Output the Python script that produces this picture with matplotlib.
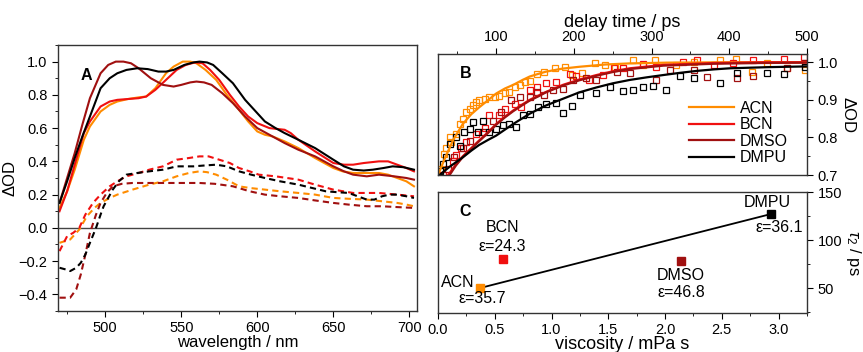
import matplotlib
matplotlib.use("Agg")
import matplotlib.pyplot as plt
from matplotlib.ticker import MultipleLocator

plt.rcParams['font.family'] = ['Liberation Sans', 'DejaVu Sans']
plt.rcParams['mathtext.fontset'] = 'custom'
plt.rcParams['mathtext.rm'] = 'Liberation Sans'
plt.rcParams['mathtext.it'] = 'Liberation Sans:italic'

solvents = ["ACN", "BCN", "DMSO", "DMPU"]
colors = ["#FF8C00", "#F01010", "#A01010", "#000000"]

# ---------- Panel A: spectra (solid) ----------
wl_solid_acn = [470, 475, 480, 486, 490, 497, 503, 508, 515, 522, 527, 533, 540, 545, 551, 556, 560, 566, 573, 580, 588, 594, 600, 605, 610, 618, 627, 638, 650, 656, 663, 672, 680, 686, 692, 698, 703]
od_solid_acn = [0.12, 0.22, 0.35, 0.53, 0.61, 0.70, 0.74, 0.76, 0.775, 0.785, 0.79, 0.84, 0.93, 0.97, 1.00, 1.00, 0.99, 0.95, 0.89, 0.80, 0.71, 0.64, 0.58, 0.56, 0.55, 0.52, 0.48, 0.42, 0.36, 0.34, 0.33, 0.33, 0.33, 0.32, 0.30, 0.28, 0.25]
wl_solid_bcn = [470, 475, 480, 486, 490, 497, 503, 508, 515, 522, 527, 533, 540, 547, 553, 559, 564, 569, 575, 582, 588, 594, 600, 608, 613, 618, 622, 627, 638, 650, 657, 663, 670, 680, 686, 692, 698, 703]
od_solid_bcn = [0.10, 0.22, 0.38, 0.57, 0.64, 0.73, 0.76, 0.77, 0.775, 0.78, 0.79, 0.83, 0.89, 0.95, 0.98, 0.995, 0.99, 0.95, 0.89, 0.80, 0.73, 0.67, 0.63, 0.60, 0.595, 0.59, 0.57, 0.53, 0.46, 0.39, 0.38, 0.38, 0.39, 0.40, 0.40, 0.38, 0.36, 0.34]
wl_solid_dmso = [470, 475, 480, 485, 490, 497, 502, 507, 512, 517, 522, 530, 538, 545, 550, 556, 560, 565, 570, 577, 584, 592, 600, 610, 618, 627, 638, 650, 657, 663, 672, 680, 690, 698, 703]
od_solid_dmso = [0.15, 0.30, 0.45, 0.62, 0.78, 0.93, 0.98, 1.00, 1.00, 0.99, 0.96, 0.90, 0.86, 0.85, 0.86, 0.875, 0.88, 0.875, 0.86, 0.81, 0.75, 0.67, 0.60, 0.55, 0.51, 0.47, 0.43, 0.37, 0.34, 0.32, 0.31, 0.32, 0.31, 0.30, 0.29]
wl_solid_dmpu = [470, 475, 480, 485, 490, 497, 503, 508, 514, 521, 528, 535, 540, 545, 552, 558, 562, 567, 571, 577, 584, 592, 600, 605, 612, 618, 627, 638, 650, 657, 663, 670, 676, 683, 689, 696, 703]
od_solid_dmpu = [0.15, 0.28, 0.42, 0.55, 0.67, 0.84, 0.90, 0.93, 0.95, 0.96, 0.955, 0.94, 0.94, 0.95, 0.98, 0.995, 1.00, 0.995, 0.98, 0.93, 0.87, 0.77, 0.69, 0.64, 0.60, 0.57, 0.53, 0.48, 0.41, 0.37, 0.35, 0.345, 0.35, 0.36, 0.37, 0.365, 0.35]

# ---------- Panel A: spectra (dashed) ----------
wl_dash_acn = [470, 477, 483, 488, 493, 497, 503, 508, 518, 529, 538, 547, 555, 562, 567, 573, 580, 588, 595, 605, 615, 627, 638, 650, 660, 672, 682, 692, 698, 703]
od_dash_acn = [-0.09, -0.07, -0.01, 0.07, 0.12, 0.15, 0.18, 0.20, 0.23, 0.26, 0.28, 0.31, 0.33, 0.34, 0.335, 0.32, 0.29, 0.25, 0.24, 0.23, 0.22, 0.21, 0.20, 0.18, 0.175, 0.17, 0.16, 0.15, 0.14, 0.13]
wl_dash_bcn = [470, 475, 479, 483, 487, 492, 497, 503, 508, 514, 522, 529, 538, 547, 555, 562, 568, 575, 582, 588, 595, 601, 612, 627, 638, 650, 663, 672, 680, 692, 703]
od_dash_bcn = [-0.14, -0.05, -0.03, 0.00, 0.08, 0.15, 0.20, 0.25, 0.28, 0.31, 0.33, 0.35, 0.37, 0.41, 0.42, 0.43, 0.43, 0.41, 0.39, 0.36, 0.34, 0.32, 0.31, 0.29, 0.26, 0.23, 0.21, 0.21, 0.21, 0.20, 0.19]
wl_dash_dmso = [470, 477, 481, 484, 487, 490, 494, 497, 501, 505, 511, 518, 530, 540, 552, 562, 572, 584, 595, 605, 615, 627, 638, 650, 660, 672, 682, 692, 703]
od_dash_dmso = [-0.42, -0.42, -0.37, -0.28, -0.16, -0.03, 0.08, 0.15, 0.21, 0.25, 0.265, 0.27, 0.27, 0.27, 0.27, 0.27, 0.265, 0.25, 0.22, 0.20, 0.19, 0.18, 0.165, 0.15, 0.14, 0.13, 0.13, 0.125, 0.12]
wl_dash_dmpu = [470, 474, 477, 481, 484, 487, 490, 494, 497, 499, 502, 505, 509, 514, 521, 529, 538, 547, 558, 565, 573, 580, 588, 596, 605, 615, 627, 636, 645, 652, 660, 666, 672, 677, 682, 687, 692, 698, 703]
od_dash_dmpu = [-0.24, -0.25, -0.26, -0.24, -0.21, -0.16, -0.09, 0.00, 0.08, 0.13, 0.18, 0.23, 0.28, 0.32, 0.33, 0.34, 0.35, 0.37, 0.37, 0.375, 0.38, 0.37, 0.34, 0.32, 0.30, 0.28, 0.26, 0.24, 0.22, 0.215, 0.21, 0.19, 0.17, 0.17, 0.19, 0.20, 0.20, 0.19, 0.18]

# ---------- Panel B: kinetics (points) ----------
t_acn = [29, 33, 35, 40, 42, 48, 53, 57, 61, 66, 70, 74, 78, 85, 91, 98, 104, 111, 117, 124, 130, 137, 143, 152, 162, 175, 188, 197, 210, 227, 240, 253, 276, 289, 304, 332, 354, 388, 408, 429, 448, 474, 498]
k_acn = [0.715, 0.757, 0.773, 0.80, 0.787, 0.81, 0.836, 0.85, 0.867, 0.876, 0.885, 0.894, 0.90, 0.903, 0.908, 0.908, 0.91, 0.917, 0.92, 0.933, 0.94, 0.948, 0.95, 0.969, 0.975, 0.984, 0.987, 0.966, 0.972, 0.997, 0.993, 0.988, 1.006, 0.993, 1.006, 0.993, 1.002, 1.006, 1.01, 0.975, 0.997, 0.984, 0.979]
t_bcn = [31, 44, 48, 55, 61, 74, 85, 91, 104, 111, 124, 132, 143, 152, 164, 177, 195, 203, 220, 238, 251, 263, 289, 306, 341, 358, 380, 405, 431, 470, 496]
k_bcn = [0.70, 0.738, 0.754, 0.773, 0.787, 0.81, 0.825, 0.859, 0.859, 0.876, 0.89, 0.88, 0.926, 0.935, 0.944, 0.948, 0.969, 0.963, 0.953, 0.966, 0.984, 0.984, 0.996, 0.988, 1.002, 1.006, 0.993, 0.997, 1.006, 1.008, 1.013]
t_dmso = [38, 46, 57, 66, 83, 96, 106, 119, 130, 143, 152, 162, 173, 186, 199, 216, 229, 255, 272, 306, 324, 354, 371, 410, 431, 474, 498]
k_dmso = [0.715, 0.747, 0.773, 0.79, 0.814, 0.845, 0.867, 0.90, 0.908, 0.908, 0.92, 0.912, 0.926, 0.93, 0.953, 0.957, 0.953, 0.975, 0.972, 0.953, 0.979, 0.979, 0.962, 0.957, 0.963, 0.984, 0.999]
t_dmpu = [27, 31, 35, 40, 48, 53, 59, 66, 70, 76, 83, 91, 100, 109, 117, 126, 134, 143, 154, 164, 177, 186, 197, 208, 229, 246, 263, 276, 289, 302, 319, 337, 354, 388, 410, 448, 470, 498]
k_dmpu = [0.71, 0.73, 0.747, 0.782, 0.80, 0.778, 0.814, 0.823, 0.84, 0.814, 0.845, 0.814, 0.823, 0.832, 0.836, 0.827, 0.859, 0.863, 0.88, 0.89, 0.892, 0.865, 0.883, 0.912, 0.917, 0.935, 0.924, 0.926, 0.933, 0.936, 0.926, 0.963, 0.957, 0.945, 0.972, 0.972, 0.969, 0.988]

# ---------- Panel B: fit curves ----------
tf_acn = [25, 35, 45, 57, 68, 78, 90, 100, 111, 122, 133, 143, 154, 164, 185, 207, 240, 272, 320, 400, 500]
kf_acn = [0.70, 0.75, 0.795, 0.836, 0.862, 0.88, 0.90, 0.917, 0.93, 0.94, 0.952, 0.962, 0.969, 0.975, 0.983, 0.988, 0.994, 0.997, 0.999, 1.0, 1.0]
tf_bcn = [38, 47, 57, 68, 78, 90, 100, 111, 122, 133, 143, 154, 164, 186, 207, 229, 250, 272, 315, 380, 440, 500]
kf_bcn = [0.70, 0.725, 0.75, 0.772, 0.792, 0.815, 0.836, 0.855, 0.872, 0.887, 0.90, 0.911, 0.921, 0.94, 0.954, 0.966, 0.976, 0.984, 0.993, 0.998, 1.0, 1.0]
tf_dmso = [40, 48, 57, 68, 78, 90, 100, 111, 122, 133, 143, 154, 164, 186, 207, 229, 250, 272, 315, 380, 440, 500]
kf_dmso = [0.70, 0.725, 0.748, 0.770, 0.79, 0.813, 0.834, 0.853, 0.870, 0.885, 0.898, 0.909, 0.92, 0.938, 0.952, 0.964, 0.974, 0.982, 0.991, 0.996, 0.998, 0.999]
tf_dmpu = [27, 40, 57, 68, 78, 90, 100, 122, 143, 164, 186, 207, 229, 250, 272, 294, 315, 337, 358, 380, 401, 450, 500]
kf_dmpu = [0.70, 0.722, 0.747, 0.765, 0.78, 0.794, 0.805, 0.836, 0.863, 0.885, 0.903, 0.92, 0.933, 0.944, 0.953, 0.96, 0.966, 0.972, 0.977, 0.981, 0.984, 0.987, 0.989]

# ---------- Panel C ----------
viscosity = [0.37, 0.57, 2.14, 2.93]
tau2 = [50, 80, 78, 127]
epsilon = ["ε=35.7", "ε=24.3", "ε=46.8", "ε=36.1"]

# ================= figure =================
fig = plt.figure(figsize=(8.63, 3.52), dpi=100)
TICK = 10.5
LAB = 12
ANN = 11.5

axA = fig.add_axes([0.0672, 0.1165, 0.4160, 0.7557])
solid = [(wl_solid_acn, od_solid_acn), (wl_solid_bcn, od_solid_bcn),
         (wl_solid_dmso, od_solid_dmso), (wl_solid_dmpu, od_solid_dmpu)]
dashed = [(wl_dash_acn, od_dash_acn), (wl_dash_bcn, od_dash_bcn),
          (wl_dash_dmso, od_dash_dmso), (wl_dash_dmpu, od_dash_dmpu)]
axA.axhline(0, color="#444444", lw=1.0, zorder=1)
for (x, y), c in zip(dashed, colors):
    axA.plot(x, y, color=c, lw=1.5, ls=(0, (3, 2)), solid_joinstyle="round")
for (x, y), c in zip(solid, colors):
    axA.plot(x, y, color=c, lw=1.5, solid_joinstyle="round")
axA.set_xlim(469, 705)
axA.set_ylim(-0.5, 1.1)
axA.xaxis.set_major_locator(MultipleLocator(50))
axA.xaxis.set_minor_locator(MultipleLocator(25))
axA.yaxis.set_minor_locator(MultipleLocator(0.1))
axA.set_yticks([-0.4, -0.2, 0.0, 0.2, 0.4, 0.6, 0.8, 1.0])
axA.tick_params(which="both", direction="out", labelsize=TICK)
axA.tick_params(which="major", length=4)
axA.tick_params(which="minor", length=2.5)
axA.set_xlabel("wavelength / nm", fontsize=LAB, labelpad=0)
axA.set_ylabel("ΔOD", fontsize=LAB, labelpad=1)
axA.text(0.062, 0.87, "A", transform=axA.transAxes, fontsize=11.5, fontweight="bold")

# Panel B
axB = fig.add_axes([0.5075, 0.5028, 0.4276, 0.3438])
pts = [(t_acn, k_acn), (t_bcn, k_bcn), (t_dmso, k_dmso), (t_dmpu, k_dmpu)]
fits = [(tf_acn, kf_acn), (tf_bcn, kf_bcn), (tf_dmso, kf_dmso), (tf_dmpu, kf_dmpu)]
for (x, y), c in zip(pts, colors):
    axB.plot(x, y, ls="none", marker="s", ms=4, mfc="none", mec=c, mew=0.9, clip_on=True)
for (x, y), c, s in zip(fits, colors, solvents):
    axB.plot(x, y, color=c, lw=1.6, label=s)
axB.set_xlim(25, 500)
axB.set_ylim(0.7, 1.022)
axB.xaxis.tick_top()
axB.xaxis.set_label_position("top")
axB.yaxis.tick_right()
axB.yaxis.set_label_position("right")
axB.xaxis.set_major_locator(MultipleLocator(100))
axB.xaxis.set_minor_locator(MultipleLocator(50))
axB.yaxis.set_major_locator(MultipleLocator(0.1))
axB.yaxis.set_minor_locator(MultipleLocator(0.05))
axB.tick_params(which="both", direction="out", labelsize=TICK)
axB.tick_params(which="major", length=4)
axB.tick_params(which="minor", length=2.5)
axB.set_xlabel("delay time / ps", fontsize=LAB + 1, labelpad=2)
axB.set_ylabel("ΔOD", fontsize=LAB, rotation=270, labelpad=13)
axB.text(0.058, 0.80, "B", transform=axB.transAxes, fontsize=11.5, fontweight="bold")
leg = axB.legend(loc="lower right", bbox_to_anchor=(0.975, 0.0), frameon=False,
                 fontsize=ANN, handlelength=2.8, handletextpad=0.4, labelspacing=0.1,
                 borderaxespad=0.2)

# Panel C
axC = fig.add_axes([0.5075, 0.1108, 0.4276, 0.3437])
axC.plot([viscosity[0], viscosity[3]], [tau2[0], tau2[3]], color="black", lw=1.3, zorder=2)
for v, t, c in zip(viscosity, tau2, colors):
    axC.plot(v, t, ls="none", marker="s", ms=5.5, color=c, zorder=3)
axC.set_xlim(0, 3.25)
axC.set_ylim(24, 150)
axC.yaxis.tick_right()
axC.yaxis.set_label_position("right")
axC.xaxis.set_major_locator(MultipleLocator(0.5))
axC.xaxis.set_minor_locator(MultipleLocator(0.25))
axC.yaxis.set_major_locator(MultipleLocator(50))
axC.yaxis.set_minor_locator(MultipleLocator(25))
axC.tick_params(which="both", direction="out", labelsize=TICK)
axC.tick_params(which="major", length=4)
axC.tick_params(which="minor", length=2.5)
axC.set_xlabel("viscosity / mPa s", fontsize=LAB + 1, labelpad=-1)
axC.set_ylabel(r"$\tau_2$ / ps", fontsize=LAB, rotation=270, labelpad=15)
axC.text(0.058, 0.80, "C", transform=axC.transAxes, fontsize=11.5, fontweight="bold")

# ACN
axC.text(viscosity[0] - 0.05, tau2[0] + 6, solvents[0], ha="right", va="center", fontsize=ANN)
axC.text(viscosity[0] + 0.02, tau2[0] - 11, epsilon[0], ha="center", va="center", fontsize=ANN)
# BCN
axC.text(viscosity[1], tau2[1] + 33, solvents[1], ha="center", va="center", fontsize=ANN)
axC.text(viscosity[1], tau2[1] + 13, epsilon[1], ha="center", va="center", fontsize=ANN)
# DMSO
axC.text(viscosity[2], tau2[2] - 15, solvents[2], ha="center", va="center", fontsize=ANN)
axC.text(viscosity[2], tau2[2] - 33, epsilon[2], ha="center", va="center", fontsize=ANN)
# DMPU
axC.text(viscosity[3] - 0.03, tau2[3] + 12, solvents[3], ha="center", va="center", fontsize=ANN)
axC.text(viscosity[3] + 0.08, tau2[3] - 14, epsilon[3], ha="center", va="center", fontsize=ANN)

for ax in (axA, axB, axC):
    for sp in ax.spines.values():
        sp.set_linewidth(1.0)
        sp.set_color("#333333")

fig.savefig("out.png", dpi=100)
